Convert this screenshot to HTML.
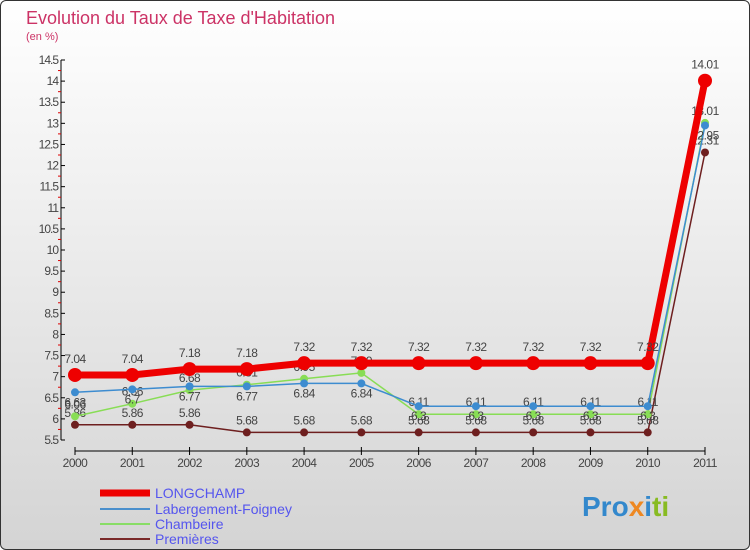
<!DOCTYPE html>
<html><head><meta charset="utf-8"><style>
body{margin:0;width:750px;height:550px;overflow:hidden;font-family:"Liberation Sans",sans-serif}
#wrap{position:absolute;left:0;top:0;width:748px;height:548px;border:1px solid #333;border-radius:6px;background:linear-gradient(#ffffff,#d4d4d4);}
</style></head><body>
<div id="wrap">
<svg id="chart" width="750" height="550" xmlns="http://www.w3.org/2000/svg" style="position:absolute;left:-1px;top:-1px">
<text x="26" y="24" font-size="18" fill="#cc3366">Evolution du Taux de Taxe d'Habitation</text>
<text x="26" y="40" font-size="11" fill="#cc3366">(en %)</text>
<g id="axes"></g><g id="series"></g>
<g>
<line x1="100" y1="493" x2="150" y2="493" stroke="#ee0000" stroke-width="7"/>
<text x="155" y="498" font-size="14" fill="#5555ee">LONGCHAMP</text>
<line x1="100" y1="509" x2="150" y2="509" stroke="#4a8fcc" stroke-width="2"/>
<text x="155" y="514" font-size="14" fill="#5555ee">Labergement-Foigney</text>
<line x1="100" y1="524" x2="150" y2="524" stroke="#88dd66" stroke-width="2"/>
<text x="155" y="529" font-size="14" fill="#5555ee">Chambeire</text>
<line x1="100" y1="539" x2="150" y2="539" stroke="#7a2a2a" stroke-width="2"/>
<text x="155" y="544" font-size="14" fill="#5555ee">Premières</text>
</g>
<text x="582" y="516" font-size="28" font-weight="bold"><tspan fill="#3388cc">Pro</tspan><tspan fill="#ee8822">x</tspan><tspan fill="#3388cc">i</tspan><tspan fill="#88bb22">ti</tspan></text>
</svg></div>
<script>
const years=[2000,2001,2002,2003,2004,2005,2006,2007,2008,2009,2010,2011];
const longchamp=[7.04,7.04,7.18,7.18,7.32,7.32,7.32,7.32,7.32,7.32,7.32,14.01];
const labergement=[6.63,6.7,6.77,6.77,6.84,6.84,6.3,6.3,6.3,6.3,6.3,12.95];
const chambeire=[6.06,6.36,6.68,6.81,6.95,7.09,6.11,6.11,6.11,6.11,6.11,13.01];
const premieres=[5.86,5.86,5.86,5.68,5.68,5.68,5.68,5.68,5.68,5.68,5.68,12.31];
const yTicks=[5.5,6,6.5,7,7.5,8,8.5,9,9.5,10,10.5,11,11.5,12,12.5,13,13.5,14,14.5];
const NS="http://www.w3.org/2000/svg";
const yMin=5.5,yMax=14.5,plotTop=60,plotBot=440,x0=75,x1=705;
const y=v=>plotBot-(v-yMin)/(yMax-yMin)*(plotBot-plotTop);
const x=i=>x0+i*(x1-x0)/(years.length-1);
function mk(t,a,p){const e=document.createElementNS(NS,t);for(const k in a)e.setAttribute(k,a[k]);p.appendChild(e);return e;}
const ax=document.getElementById('axes');
let l=mk('line',{x1:61,y1:plotTop,x2:61,y2:plotBot,stroke:'#000'},ax);


yTicks.forEach(v=>{
 mk('line',{x1:61,y1:y(v),x2:65,y2:y(v),stroke:'#000'},ax);
 if(v<yMax) mk('line',{x1:58,y1:y(v+0.25),x2:61,y2:y(v+0.25),stroke:'#dd0000'},ax);
 const t=mk('text',{x:58,y:y(v)+4,'font-size':12,'text-anchor':'end',fill:'#444','letter-spacing':'-1'},ax);
 t.textContent=v;
 
 
});
l=mk('line',{x1:x0,y1:451,x2:x1,y2:451,stroke:'#000'},ax);


years.forEach((yr,i)=>{
 mk('line',{x1:x(i),y1:447,x2:x(i),y2:455,stroke:'#000'},ax);
 const t=mk('text',{x:x(i),y:467,'font-size':12,'text-anchor':'middle',fill:'#444','letter-spacing':'-0.5'},ax);
 t.textContent=yr;
 
 
});
const sg=document.getElementById('series');
function draw(name,data,color,w,r,dy){
 const g=mk('g',{},sg);
 
 
 mk('polyline',{points:data.map((v,i)=>x(i)+','+y(v)).join(' '),fill:'none',stroke:color,'stroke-width':w},g);
 data.forEach((v,i)=>{
  const c=mk('circle',{cx:x(i),cy:y(v),r:r,fill:color},g);
  
  
  const t=mk('text',{x:x(i),y:y(v)+dy,'font-size':12,'text-anchor':'middle',fill:'#444','letter-spacing':'-0.5'},g);
  t.textContent=v;
  
  
 });
}
draw('premieres',premieres,'#6e1f1f',1.5,4,-8);
draw('chambeire',chambeire,'#88dd55',1.5,4,-8);
draw('labergement',labergement,'#3d8cd0',1.5,4,14);
draw('longchamp',longchamp,'#ee0000',7,7,-12);
</script>
</body></html>
